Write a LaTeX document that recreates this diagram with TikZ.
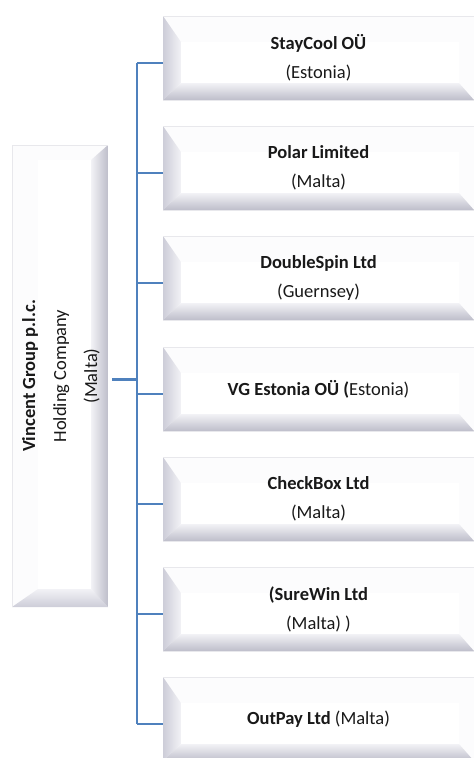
\documentclass[tikz,border=0pt]{standalone}
\usepackage{fontspec}
\setmainfont{Carlito}
\usetikzlibrary{calc}
\definecolor{connblue}{HTML}{4F81BD}
\definecolor{bevmid}{HTML}{CDCDD8}
\definecolor{bevdark}{HTML}{BEBECA}
\definecolor{bevlight}{HTML}{F2F2F6}
\definecolor{bevbg}{HTML}{FCFCFD}
\definecolor{bevedge}{HTML}{E8E8EC}
\tikzset{
  boxfont/.style={font=\fontsize{18.5}{29}\selectfont, text=black!90},
  subbox/.style={boxfont, minimum width=311pt, minimum height=84pt, inner sep=0pt, align=center,
    path picture={
      \path (path picture bounding box.south west) coordinate (pA)
            (path picture bounding box.north east) coordinate (pB);
      \fill[bevbg] (pA) rectangle (pB);
      \shade[left color=bevmid, right color=bevlight]
        (pA|-pB) -- ($(pA|-pB)+(18pt,-26pt)$) -- ($(pA)+(18pt,17pt)$) -- (pA) -- cycle;
      \shade[top color=bevlight, bottom color=bevdark]
        (pA) -- ($(pA)+(18pt,17pt)$) -- ($(pB|-pA)+(-15pt,17pt)$) -- (pB|-pA) -- cycle;
      \fill[white] ($(pA)+(18pt,17pt)$) rectangle ($(pB)+(-15pt,-26pt)$);
      \draw[bevedge, line width=1.5pt] (pA|-pB) -- (pB);
      \draw[bevedge, line width=1pt] (pA) -- (pB|-pA);
    }},
  holdbox/.style={font=\fontsize{18.5}{31}\selectfont, text=black!90,
    minimum width=96pt, minimum height=462pt, inner sep=0pt,
    path picture={
      \path (path picture bounding box.south west) coordinate (pA)
            (path picture bounding box.north east) coordinate (pB);
      \fill[bevbg] (pA) rectangle (pB);
      \shade[top color=bevlight, bottom color=bevmid]
        (pA) -- (pB|-pA) -- ($(pB|-pA)+(-17pt,18pt)$) -- ($(pA)+(26pt,18pt)$) -- cycle;
      \shade[left color=bevlight, right color=bevdark]
        (pB) -- (pB|-pA) -- ($(pB|-pA)+(-17pt,18pt)$) -- ($(pB)+(-17pt,-15pt)$) -- cycle;
      \fill[white] ($(pA)+(26pt,18pt)$) rectangle ($(pB)+(-17pt,-15pt)$);
      \draw[bevedge, line width=1.5pt] (pA) -- (pA|-pB);
      \draw[bevedge, line width=1pt] (pA|-pB) -- (pB);
    }},
  trunkline/.style={draw=connblue, line width=2pt},
  branchline/.style={draw=connblue, line width=1.7pt},
  stubline/.style={draw=connblue, line width=3pt}
}
\begin{document}
\begin{tikzpicture}[x=1pt, y=-1pt]
\useasboundingbox (0,0) rectangle (475,758);

\node[holdbox] (hold) at (60,376)
  {\rotatebox{90}{\begin{tabular}{@{}c@{}}\textbf{Vincent Group p.l.c.}\\ Holding Company\\ (Malta)\end{tabular}}};

\node[subbox] (b1) at (318.5,58)  {\textbf{StayCool OÜ}\\(Estonia)};
\node[subbox] (b2) at (318.5,168) {\textbf{Polar Limited}\\(Malta)};
\node[subbox] (b3) at (318.5,278) {\textbf{DoubleSpin Ltd}\\(Guernsey)};
\node[subbox] (b4) at (318.5,389) {\textbf{VG Estonia OÜ (}Estonia)};
\node[subbox] (b5) at (318.5,499) {\textbf{CheckBox Ltd}\\(Malta)};
\node[subbox] (b6) at (318.5,609) {\textbf{(SureWin Ltd}\\(Malta) )};
\node[subbox] (b7) at (318.5,719) {\textbf{OutPay Ltd} (Malta)};

\coordinate (T) at (137,0);
\foreach \i in {1,...,7} {
  \coordinate (c\i) at ([yshift=-5pt]b\i.west);
  \draw[branchline] (c\i) -- (c\i -| T);
}
\draw[trunkline] (c1 -| T) -- (c7 -| T);
\coordinate (s0) at ([xshift=4pt,yshift=-3pt]hold.east);
\draw[stubline] (s0) -- (s0 -| T);
\end{tikzpicture}
\end{document}
